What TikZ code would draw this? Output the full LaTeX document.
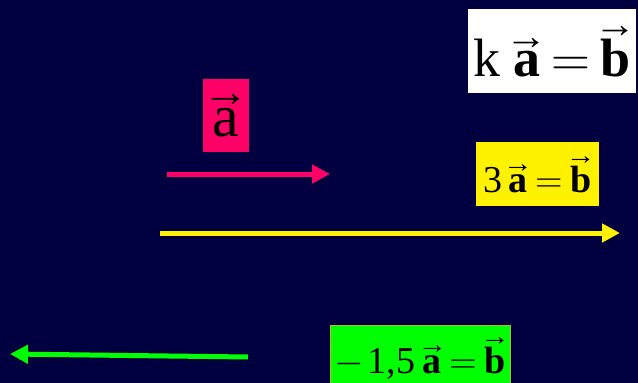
\RequirePackage{fix-cm}
\documentclass[tikz,border=0pt]{standalone}
\usepackage{xcolor}
\usepackage{fontspec}
\setmainfont{Liberation Serif}
\usepackage{tikz}
\usetikzlibrary{arrows.meta}

\definecolor{navy}{RGB}{0,0,64}
\definecolor{rose}{RGB}{255,0,102}
\definecolor{lime}{RGB}{0,255,0}

\newcommand{\arr}[1]{${\stackrel{\mbox{\makebox[0pt]{\scalebox{0.78}[0.72]{\normalfont →}}}}{\mbox{#1}}}$}
\newcommand{\va}{\arr{\bfseries a}}
\newcommand{\vb}{\arr{\bfseries b}}
\newcommand{\eq}{\kern0.2em${=}$\kern0.2em}

\begin{document}
\begin{tikzpicture}[x=1pt,y=-1pt,
  lbl/.style={inner sep=0pt,anchor=center},
  vecline/.style={line width=5pt,-{Triangle[length=18pt,width=18pt]}}]
\useasboundingbox (0,0) rectangle (638,383);
\clip (0,0) rectangle (638,383);
\fill[navy] (0,0) rectangle (638,383);
  \node[lbl,fill=white,minimum width=168pt,minimum height=84pt] (rule) at (552,51)
    {\fontsize{54}{60}\selectfont k\kern0.25em\va\eq\vb};
  \node[lbl,fill=rose,minimum width=46pt,minimum height=73pt] (avec) at (226,115.5)
    {\fontsize{60}{66}\selectfont \arr{a}};
  \node[lbl,fill=yellow,minimum width=123pt,minimum height=64pt] (three) at (537.5,174)
    {\fontsize{38}{42}\selectfont 3\kern0.15em\va\eq\vb};
  \node[lbl,fill=lime,draw=yellow!70!black,minimum width=180pt,minimum height=66pt] (half) at (420,358)
    {\fontsize{38}{42}\selectfont ${-}$\kern0.1em1,5\kern0.2em\va\eq\vb};
\coordinate (a0) at (167,174);
  \coordinate (a1) at (330,174);
  \draw[vecline,rose] (a0)--(a1);
\coordinate (b0) at (160,233);
  \coordinate (b1) at (620,233);
  \draw[vecline,yellow] (b0)--(b1);
\coordinate (c0) at (248,357);
  \coordinate (c1) at (10,354);
  \draw[vecline,lime] (c0)--(c1);
\end{tikzpicture}
\end{document}
